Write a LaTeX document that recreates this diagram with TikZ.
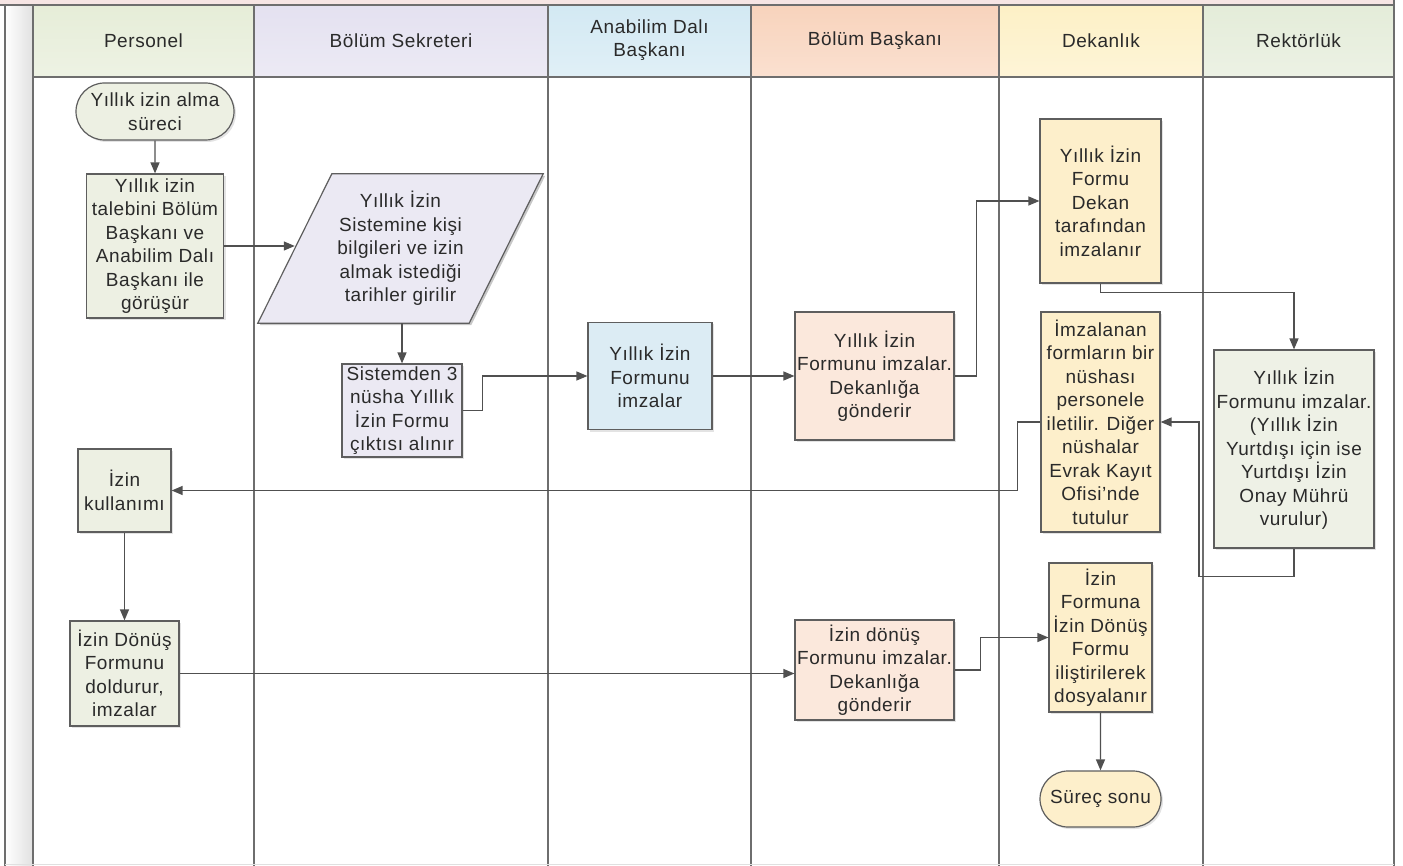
\documentclass[tikz,border=0pt]{standalone}
\usepackage{fontspec}
\setmainfont[LetterSpace=3]{Liberation Sans}
\usetikzlibrary{arrows.meta,shapes.misc,shadows,calc}

\definecolor{frameline}{HTML}{6E6E6E}
\definecolor{boxline}{HTML}{5E5E5E}
\definecolor{flowline}{HTML}{505050}
\definecolor{txt}{HTML}{2A2A2A}
\definecolor{topband}{HTML}{F6E5E4}
\definecolor{hdPer}{HTML}{E6EDD8}
\definecolor{hdSek}{HTML}{E4E1F0}
\definecolor{hdAna}{HTML}{D3E9F3}
\definecolor{hdBas}{HTML}{F8D3BC}
\definecolor{hdDek}{HTML}{FDF0C6}
\definecolor{hdRek}{HTML}{E4ECD9}
\definecolor{fPer}{HTML}{EDF0E3}
\definecolor{fSek}{HTML}{EBE9F3}
\definecolor{fAna}{HTML}{DCECF4}
\definecolor{fBas}{HTML}{FBE8DC}
\definecolor{fDek}{HTML}{FDEFCB}
\definecolor{fRek}{HTML}{EEF1E6}

\tikzset{
  base/.style={font=\fontsize{19}{23.5}\selectfont, text=txt, align=center},
  hdtext/.style={base},
  box/.style={base, draw=boxline, line width=1.2pt, inner sep=1pt,
    drop shadow={opacity=0.22, shadow xshift=2pt, shadow yshift=-2pt}},
  term/.style={box, rounded rectangle},
  flow/.style={draw=flowline, line width=1.3pt,
    -{Triangle[length=11pt,width=9pt]}},
  lane/.style={draw=frameline, line width=1.3pt},
}

\begin{document}
\begin{tikzpicture}[x=1pt,y=-1pt]
\useasboundingbox (0,0) rectangle (1403,866);

% top band and left strip
\fill[topband] (0,0) rectangle (1394,5);
\shade[left color=white, right color=black!12] (5,5) rectangle (33,866);

% lane headers
\foreach \xa/\xb/\col in {33/254/hdPer, 254/548/hdSek, 548/751/hdAna,
                          751/999/hdBas, 999/1203/hdDek, 1203/1394/hdRek}
  \shade[top color=\col, bottom color=\col!70!white] (\xa,5) rectangle (\xb,77);

\node[hdtext] (hPer) at (143.5,41) {Personel};
\node[hdtext] (hSek) at (401,41) {Bölüm Sekreteri};
\node[hdtext] (hAna) at (649.5,40) {Anabilim Dalı\\Başkanı};
\node[hdtext] (hBas) at (875,41) {Bölüm Başkanı};
\node[hdtext] (hDek) at (1101,41) {Dekanlık};
\node[hdtext] (hRek) at (1298.5,41) {Rektörlük};

% lane frame
\draw[lane] (0,5) -- (1394,5);
\draw[lane] (33,77) -- (1394,77);
\foreach \x in {5,33,254,548,751,999,1203}
  \draw[lane] (\x,5) -- (\x,866);
\draw[lane] (1394,0) -- (1394,866);
\draw[black!12, line width=1pt] (5,864) -- (1394,864);

% process steps
\node[term, fill=fPer, minimum width=160pt, minimum height=57pt] (start) at (155,111.5)
  {Yıllık izin alma\\süreci};
\node[box, fill=fPer, minimum width=137pt, minimum height=144pt] (req) at (155,246)
  {Yıllık izin\\talebini Bölüm\\Başkanı ve\\Anabilim Dalı\\Başkanı ile\\görüşür};

% data entry: parallelogram drawn around a frameless text node
\node[base, minimum width=211pt, minimum height=149pt, inner sep=0pt] (entry) at (400.5,248.5) {};
\fill[black, opacity=0.22]
  ($(entry.north west)+(39,2)$) -- ($(entry.north east)+(39,2)$) --
  ($(entry.south east)+(-35,2)$) -- ($(entry.south west)+(-35,2)$) -- cycle;
\filldraw[fill=fSek, draw=boxline, line width=1.2pt]
  ($(entry.north west)+(37,0)$) -- ($(entry.north east)+(37,0)$) --
  ($(entry.south east)+(-37,0)$) -- ($(entry.south west)+(-37,0)$) -- cycle;
\node[base, inner sep=0pt] (entrytext) at (entry.center)
  {Yıllık İzin\\Sistemine kişi\\bilgileri ve izin\\almak istediği\\tarihler girilir};

\node[box, fill=fSek, minimum width=120pt, minimum height=93pt] (print) at (402,410.5)
  {Sistemden 3\\nüsha Yıllık\\İzin Formu\\çıktısı alınır};
\node[box, fill=fAna, minimum width=124pt, minimum height=107pt] (ana) at (650,376)
  {Yıllık İzin\\Formunu\\imzalar};
\node[box, fill=fBas, minimum width=159pt, minimum height=128pt] (bas1) at (874.5,376)
  {Yıllık İzin\\Formunu imzalar.\\Dekanlığa\\gönderir};
\node[box, fill=fDek, minimum width=121pt, minimum height=164pt] (dek1) at (1100.5,201)
  {Yıllık İzin\\Formu\\Dekan\\tarafından\\imzalanır};
\node[box, fill=fDek, minimum width=119pt, minimum height=220pt] (dek2) at (1100.5,422)
  {İmzalanan\\formların bir\\nüshası\\personele\\iletilir. Diğer\\nüshalar\\Evrak Kayıt\\Ofisi'nde\\tutulur};
\node[box, fill=fRek, minimum width=160pt, minimum height=198pt] (rek) at (1294,449)
  {Yıllık İzin\\Formunu imzalar.\\(Yıllık İzin\\Yurtdışı için ise\\Yurtdışı İzin\\Onay Mührü\\vurulur)};
\node[box, fill=fPer, minimum width=93pt, minimum height=83pt] (use) at (124.5,490.5)
  {İzin\\kullanımı};
\node[box, fill=fPer, minimum width=109pt, minimum height=105pt] (ret) at (124.5,673.5)
  {İzin Dönüş\\Formunu\\doldurur,\\imzalar};
\node[box, fill=fBas, minimum width=159pt, minimum height=100pt] (bas2) at (874.5,670)
  {İzin dönüş\\Formunu imzalar.\\Dekanlığa\\gönderir};
\node[box, fill=fDek, minimum width=103pt, minimum height=149pt] (dek3) at (1100.5,637.5)
  {İzin\\Formuna\\İzin Dönüş\\Formu\\iliştirilerek\\dosyalanır};
\node[term, fill=fDek, minimum width=123pt, minimum height=56pt] (end) at (1100.5,799)
  {Süreç sonu};

% connectors
\draw[flow] (start) -- (req);
\draw[flow] (req.east) -- (req.east -| entry.west);
\draw[flow] (entry.south -| print.north) -- (print.north);
\draw[flow] (print.east) -- ++(20,0) |- (ana.west);
\draw[flow] (ana.east) -- (bas1.west);
\draw[flow] (bas1.east) -- ++(22,0) |- (dek1.west);
\draw[flow] (dek1.south) -- ++(0,9) -| (rek.north);
\draw[flow] (rek.south) -- ++(0,28) -- ++(-95,0) |- (dek2.east);
\draw[flow] (dek2.west) -- ++(-23,0) |- (use.east);
\draw[flow] (use) -- (ret);
\draw[flow] (ret.east) -- (ret.east -| bas2.west);
\draw[flow] (bas2.east) -- ++(26,0) |- (dek3.west);
\draw[flow] (dek3) -- (end);
\end{tikzpicture}
\end{document}
